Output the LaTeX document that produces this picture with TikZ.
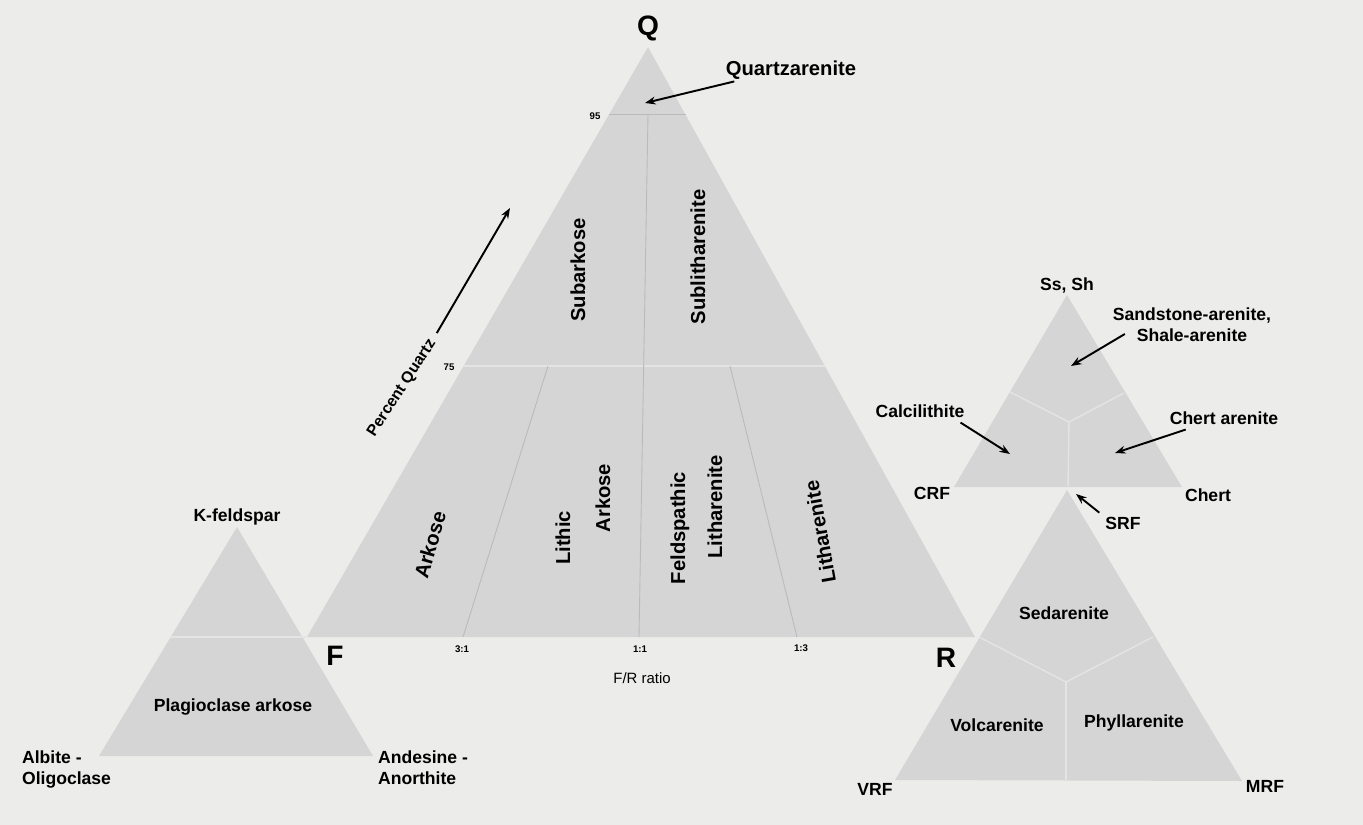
\documentclass[tikz,border=0pt]{standalone}
\usepackage{fontspec}
\setmainfont{Liberation Sans}
\usetikzlibrary{positioning, arrows.meta}
\definecolor{paper}{RGB}{236,237,235}
\definecolor{field}{RGB}{213,213,213}
\definecolor{darkdiv}{RGB}{186,186,186}
\definecolor{lightdiv}{RGB}{228,228,228}

\begin{document}
\begin{tikzpicture}[
        x=0.02cm, y=-0.02cm,
        region/.style={fill=field, draw=none},
        divline/.style={draw=darkdiv, line width=0.5pt},
        softline/.style={draw=lightdiv, line width=0.8pt},
        apexlabel/.style={font=\fontsize{16}{16}\selectfont\bfseries, inner sep=1pt},
        rocklabel/.style={font=\fontsize{11.5}{13}\selectfont\bfseries, inner sep=1pt},
        sidelabel/.style={font=\fontsize{10}{12}\selectfont\bfseries, inner sep=1pt, align=center},
        ticklabel/.style={font=\fontsize{5.5}{6}\selectfont\bfseries, inner sep=1pt},
        pointer/.style={-{Stealth[length=6pt, width=4.5pt]}, line width=1.1pt}
    ]
        % Page
        \fill[paper] (0,0) rectangle (1363,825);
        \useasboundingbox (0,0) rectangle (1363,825);

        % QFR triangle
        \coordinate (Q) at (648,47);
        \coordinate (F) at (307,637);
        \coordinate (R) at (975,637);
        \fill[region] (Q) -- (F) -- (R) -- cycle;
        \draw[divline] (609,114) -- (686,114);
        \draw[softline] (463,366) -- (825,366);
        \draw[divline] (648,114) -- (639,637);
        \draw[divline] (548,366) -- (463,637);
        \draw[divline] (730,366) -- (797,637);

        \node[apexlabel] (Qlab) at (648,28) {Q};
        \node[apexlabel] (Flab) at (335,656) {F};
        \node[apexlabel] (Rlab) at (946,658) {R};
        \node[ticklabel] (t95) at (595,116) {95};
        \node[ticklabel] (t75) at (449,367) {75};
        \node[ticklabel] (t31) at (462,649) {3:1};
        \node[ticklabel] (t11) at (640,649) {1:1};
        \node[ticklabel] (t13) at (801,648) {1:3};
        \node[font=\fontsize{8.5}{10}\selectfont, inner sep=1pt] (ratio) at (642,678) {F/R ratio};

        \node[rocklabel] (quartzaren) at (791,70) {Quartzarenite};
        \coordinate (quartzpt) at (645,103);
        \draw[pointer] ([xshift=6pt]quartzaren.south west) -- (quartzpt);

        \node[font=\fontsize{9}{10}\selectfont\bfseries, inner sep=1pt, rotate=57] (pctq) at (402,388) {Percent Quartz};
        \coordinate (pcttip) at (510,208);
        \draw[pointer] ([shift={(3,-6)}]pctq.east) -- (pcttip);

        \node[rocklabel, rotate=90] (subark) at (578,270) {Subarkose};
        \node[rocklabel, rotate=90] (sublith) at (698,257) {Sublitharenite};
        \node[rocklabel, rotate=74] (arkose) at (430,545) {Arkose};
        \node[rocklabel, rotate=90] (lithic) at (563,538) {Lithic};
        \node[rocklabel, rotate=90] (lithark) at (603,498) {Arkose};
        \node[rocklabel, rotate=90] (feldsp) at (680,528) {Feldspathic};
        \node[rocklabel, rotate=90] (feldlith) at (715,507) {Litharenite};
        \node[rocklabel, rotate=100] (lithar) at (820,532) {Litharenite};

        % Feldspar triangle
        \coordinate (Kf) at (237,527);
        \coordinate (Ab) at (99,756);
        \coordinate (An) at (373,756);
        \fill[region] (Kf) -- (Ab) -- (An) -- cycle;
        \draw[softline] (170,637) -- (306,637);
        \node[sidelabel, above=0pt of Kf] (kfelds) {K-feldspar};
        \node[sidelabel] (plagark) at (233,707) {Plagioclase arkose};
        \node[sidelabel, align=left, anchor=north west] (albite) at (20,749) {Albite -\\Oligoclase};
        \node[sidelabel, align=left, anchor=north west] (andes) at (376,749) {Andesine -\\Anorthite};

        % Sedimentary rock fragment triangle
        \coordinate (Ss) at (1067,295);
        \coordinate (Cr) at (954,487);
        \coordinate (Ch) at (1182,487);
        \fill[region] (Ss) -- (Cr) -- (Ch) -- cycle;
        \draw[softline] (1010,392) -- (1069,422) -- (1124,393);
        \draw[softline] (1069,422) -- (1068,487);
        \node[sidelabel, above=0pt of Ss] (sssh) {Ss, Sh};
        \node[sidelabel] (crf) at (932,493) {CRF};
        \node[sidelabel] (chert) at (1208,495) {Chert};
        \node[sidelabel] (sandlab) at (1192,325) {Sandstone-arenite,\\Shale-arenite};
        \coordinate (sandpt) at (1071,366);
        \draw[pointer] ([shift={(14,9)}]sandlab.west) -- (sandpt);
        \node[sidelabel] (calclab) at (920,411) {Calcilithite};
        \coordinate (calcpt) at (1010,454);
        \draw[pointer] ([shift={(-6,3)}]calclab.south east) -- (calcpt);
        \node[sidelabel] (chertlab) at (1224,418) {Chert arenite};
        \coordinate (chertpt) at (1115,453);
        \draw[pointer] ([shift={(18,3)}]chertlab.south west) -- (chertpt);

        % Rock fragment triangle
        \coordinate (Sr) at (1067,490);
        \coordinate (Vr) at (895,780);
        \coordinate (Mr) at (1242,781);
        \fill[region] (Sr) -- (Vr) -- (Mr) -- cycle;
        \draw[softline] (979,637) -- (1066,682) -- (1153,637);
        \draw[softline] (1066,682) -- (1066,780);
        \node[sidelabel] (srf) at (1123,523) {SRF};
        \coordinate (srfpt) at (1076,494);
        \draw[pointer] ([shift={(-4,-2)}]srf.north west) -- (srfpt);
        \node[sidelabel] (sedar) at (1064,613) {Sedarenite};
        \node[sidelabel] (volcar) at (997,725) {Volcarenite};
        \node[sidelabel] (phyllar) at (1134,723) {Phyllarenite};
        \node[sidelabel] (vrf) at (875,789) {VRF};
        \node[sidelabel] (mrf) at (1265,786) {MRF};
    \end{tikzpicture}
\end{document}
